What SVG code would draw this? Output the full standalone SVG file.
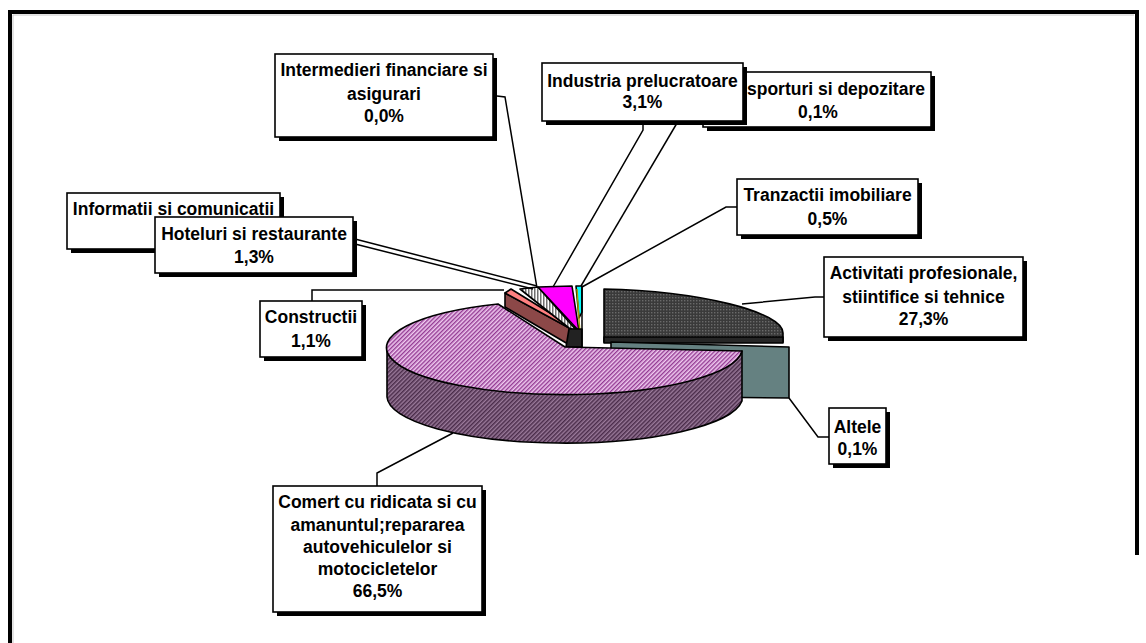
<svg xmlns="http://www.w3.org/2000/svg" width="1146" height="643" viewBox="0 0 1146 643">
<defs>
<pattern id="pTop" width="3" height="3" patternUnits="userSpaceOnUse" patternTransform="rotate(45)">
<rect width="3" height="3" fill="#efc9ef"/><rect width="1.4" height="3" fill="#933a93"/>
</pattern>
<pattern id="pSide" width="3" height="3" patternUnits="userSpaceOnUse" patternTransform="rotate(45)">
<rect width="3" height="3" fill="#9a7a9a"/><rect width="1.5" height="3" fill="#4a2c4a"/>
</pattern>
<pattern id="pDark" width="3" height="3" patternUnits="userSpaceOnUse">
<rect width="3" height="3" fill="#3a3a3a"/><rect width="1.4" height="1.4" fill="#6a6a6a"/>
</pattern>
<pattern id="pStripe" width="3" height="3" patternUnits="userSpaceOnUse">
<rect width="3" height="3" fill="#ffffff"/><rect width="1.5" height="3" fill="#707070"/>
</pattern>
</defs>
<style>
.box{fill:#fff;stroke:#000;stroke-width:1.6}
.sh{fill:#000}
.t{font-family:"Liberation Sans",Arial,sans-serif;font-weight:bold;font-size:17.5px;fill:#000;text-anchor:middle}
.ln{fill:none;stroke:#000;stroke-width:1.5}
.sl{stroke:#000;stroke-width:1.6;stroke-linejoin:round}
</style>
<rect width="1146" height="643" fill="#fff"/>
<g id="frame">
<path d="M10,643 L10,12 L1137,12 L1137,555" fill="none" stroke="#000" stroke-width="4"/>
<path d="M13,643 L13,15 L1134,15" fill="none" stroke="#c8c8c8" stroke-width="1"/>
</g>
<g id="pie">
<g id="slice-activitati">
<path class="sl" d="M604,342 L604,289 C700,291 783,312 783,333 L783,342 Z" fill="url(#pDark)"/>
<path class="sl" d="M604,337 L783,337 L783,343 L604,343 Z" fill="#262626"/>
</g>
<g id="slice-altele">
<path class="sl" d="M611,342 L789,347 L789,398 L611,396 Z" fill="#658181"/>
</g>
<g id="slice-brown">
<path class="sl" d="M505,293 L573,330 L573,347 L505,307 Z" fill="#8c4848"/>
<path class="sl" d="M505,293 L511,289 L576,329 L573,330 Z" fill="#ff8080"/>
</g>
<g id="slice-stripe">
<path class="sl" d="M520,289 L538,287 L577,331 L569,328 Z" fill="url(#pStripe)"/>
</g>
<g id="slice-magenta">
<path class="sl" d="M538,287 L572,286 L579,331 Z" fill="#ff00ff"/>
</g>
<g id="slice-cyan">
<path class="sl" d="M576,286 L582,286 L582,312 L579,318 Z" fill="#00ffff"/>
<path d="M577,289 L580,335" stroke="#a0a000" stroke-width="1.5"/>
<path class="sl" d="M569,329 L582,329 L582,347 L566,347 Z" fill="#222"/>
<path d="M582,286 L582,347" stroke="#000" stroke-width="1.5"/>
</g>
<g id="slice-comert">
<path class="sl" d="M387,347 A178,47 0 0,0 742,351 L742,401 A178,47 0 0,1 387,397 Z" fill="url(#pSide)"/>
<path class="sl" d="M565,347 L742,351 A178,47 0 1,1 498,304 Z" fill="url(#pTop)"/>
</g>
</g>
<g id="connectors">
<path class="ln" d="M497,96 L505,97 L537,288"/>
<path class="ln" d="M643,121 L643,130 L553,287"/>
<path class="ln" d="M690,101 L581,286"/>
<path class="ln" d="M737,207 L726,207 L582,287"/>
<path class="ln" d="M824,297 L815,297 L742,304"/>
<path class="ln" d="M829,437 L818,437 L789,398"/>
<path class="ln" d="M312,301 L312,290 L504,290"/>
<path class="ln" d="M377,486 L377,473 L453,433"/>
<path class="ln" d="M355,239 L537,286"/>
<path class="ln" d="M355,244 L533,289"/>
</g>
<g id="node-informatii">
<rect class="sh" x="71" y="197" width="213" height="56"/>
<rect class="box" x="67" y="193" width="213" height="56"/>
<text class="t" x="173.5" y="215">Informatii si comunicatii</text>
</g>
<g id="node-hoteluri">
<rect class="sh" x="159" y="221" width="198" height="56"/>
<rect class="box" x="155" y="217" width="198" height="56"/>
<text class="t" x="254" y="240">Hoteluri si restaurante</text>
<text class="t" x="254" y="263">1,3%</text>
</g>
<g id="node-transporturi">
<rect class="sh" x="707" y="76" width="228" height="55"/>
<rect class="box" x="703" y="72" width="228" height="55"/>
<text class="t" x="747" y="95" style="text-anchor:start">sporturi si depozitare</text>
<text class="t" x="818" y="118">0,1%</text>
</g>
<g id="node-industria">
<rect class="sh" x="546" y="67" width="201" height="58"/>
<rect class="box" x="542" y="63" width="201" height="58"/>
<text class="t" x="642.5" y="87">Industria prelucratoare</text>
<text class="t" x="642.5" y="108">3,1%</text>
</g>
<g id="node-intermedieri">
<rect class="sh" x="279" y="58" width="218" height="83"/>
<rect class="box" x="275" y="54" width="218" height="83"/>
<text class="t" x="384" y="76">Intermedieri financiare si</text>
<text class="t" x="384" y="100">asigurari</text>
<text class="t" x="384" y="122">0,0%</text>
</g>
<g id="node-tranzactii">
<rect class="sh" x="741" y="183" width="181" height="56"/>
<rect class="box" x="737" y="179" width="181" height="56"/>
<text class="t" x="827.5" y="201">Tranzactii imobiliare</text>
<text class="t" x="827.5" y="225">0,5%</text>
</g>
<g id="node-activitati">
<rect class="sh" x="828" y="261" width="199" height="80"/>
<rect class="box" x="824" y="257" width="199" height="80"/>
<text class="t" x="923.5" y="279">Activitati profesionale,</text>
<text class="t" x="923.5" y="303">stiintifice si tehnice</text>
<text class="t" x="923.5" y="325">27,3%</text>
</g>
<g id="node-altele">
<rect class="sh" x="833" y="412" width="57" height="56"/>
<rect class="box" x="829" y="408" width="57" height="56"/>
<text class="t" x="857.5" y="433">Altele</text>
<text class="t" x="857.5" y="455">0,1%</text>
</g>
<g id="node-constructii">
<rect class="sh" x="264" y="305" width="102" height="56"/>
<rect class="box" x="260" y="301" width="102" height="56"/>
<text class="t" x="311" y="323">Constructii</text>
<text class="t" x="311" y="347">1,1%</text>
</g>
<g id="node-comert">
<rect class="sh" x="277" y="490" width="209" height="126"/>
<rect class="box" x="273" y="486" width="209" height="126"/>
<text class="t" x="377.5" y="508">Comert cu ridicata si cu</text>
<text class="t" x="377.5" y="531">amanuntul;repararea</text>
<text class="t" x="377.5" y="553">autovehiculelor si</text>
<text class="t" x="377.5" y="575">motocicletelor</text>
<text class="t" x="377.5" y="597">66,5%</text>
</g>
</svg>
